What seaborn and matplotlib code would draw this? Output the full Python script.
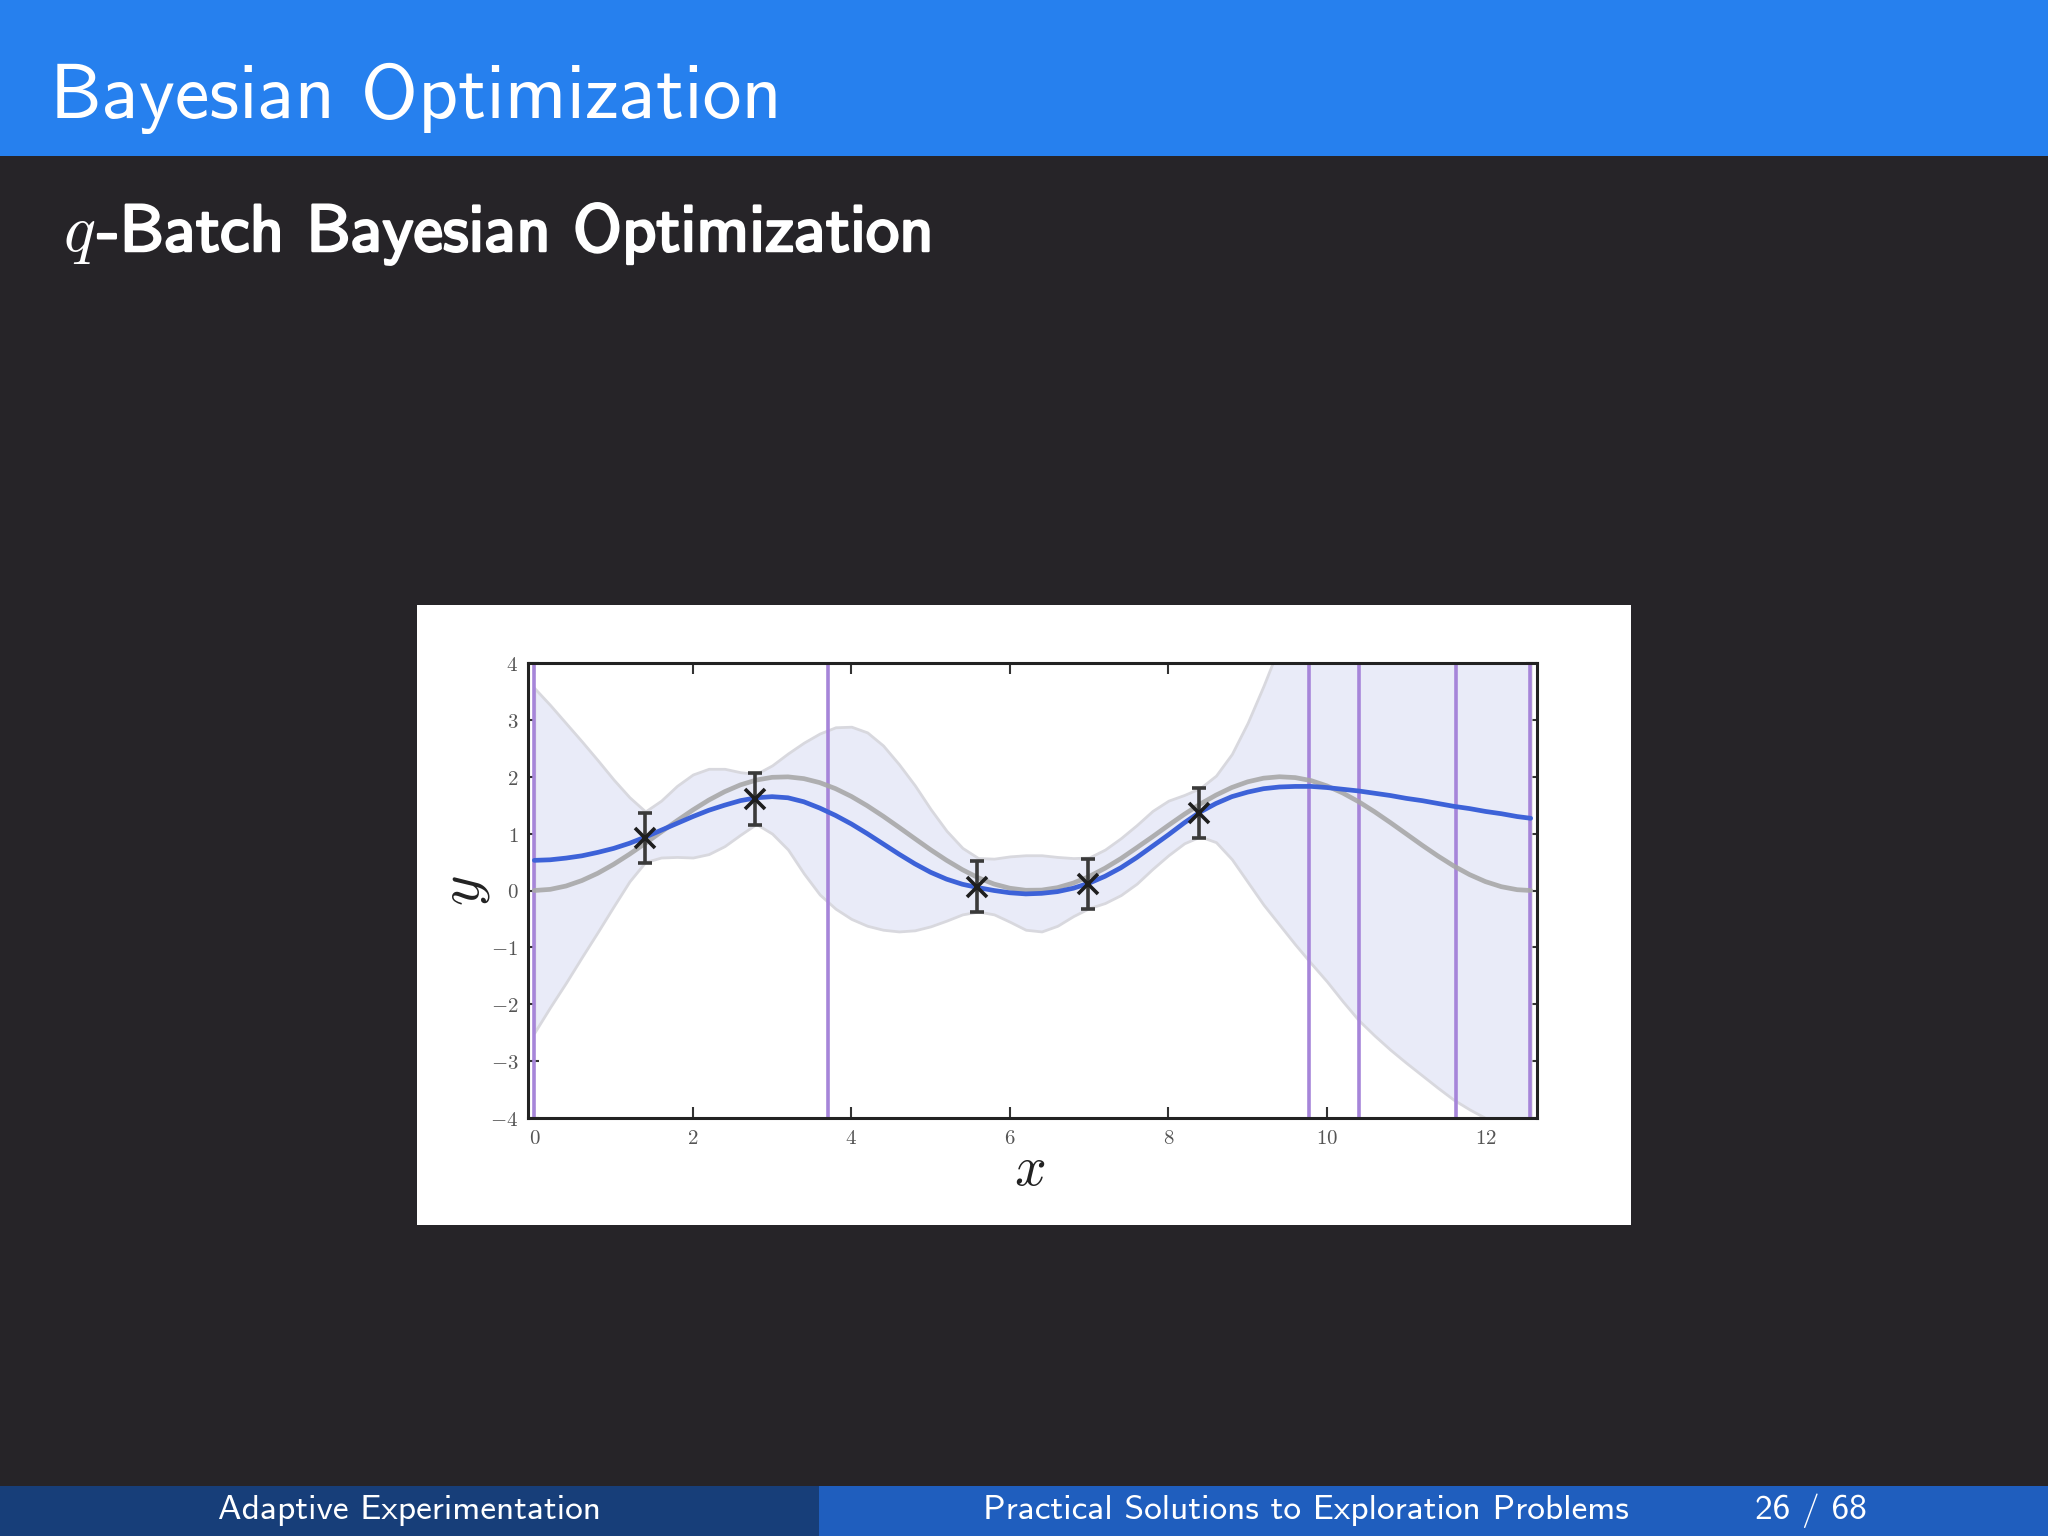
import matplotlib
matplotlib.use('Agg')
import matplotlib.pyplot as plt
import seaborn as sns
from matplotlib.patches import Rectangle
import matplotlib.patheffects as pe
from matplotlib.ticker import FuncFormatter, FixedLocator

# ---------------- data ----------------
x_grid = [0.0, 0.2, 0.4, 0.6, 0.8, 1.0, 1.2, 1.4, 1.6, 1.8,
          2.0, 2.2, 2.4, 2.6, 2.8, 3.0, 3.2, 3.4, 3.6, 3.8,
          4.0, 4.2, 4.4, 4.6, 4.8, 5.0, 5.2, 5.4, 5.6, 5.8,
          6.0, 6.2, 6.4, 6.6, 6.8, 7.0, 7.2, 7.4, 7.6, 7.8,
          8.0, 8.2, 8.4, 8.6, 8.8, 9.0, 9.2, 9.4, 9.6, 9.8,
          10.0, 10.2, 10.4, 10.6, 10.8, 11.0, 11.2, 11.4, 11.6, 11.8,
          12.0, 12.2, 12.4, 12.57]
true_f = [0.000, 0.020, 0.079, 0.175, 0.303, 0.460, 0.638, 0.830, 1.029, 1.227,
          1.416, 1.589, 1.737, 1.857, 1.942, 1.990, 1.998, 1.967, 1.897, 1.791,
          1.654, 1.490, 1.307, 1.112, 0.913, 0.716, 0.532, 0.366, 0.224, 0.113,
          0.040, 0.004, 0.007, 0.050, 0.131, 0.246, 0.392, 0.561, 0.752, 0.946,
          1.146, 1.340, 1.519, 1.677, 1.811, 1.911, 1.975, 2.000, 1.985, 1.932,
          1.839, 1.714, 1.561, 1.385, 1.194, 0.996, 0.797, 0.607, 0.431, 0.279,
          0.156, 0.067, 0.014, 0.000]
post_mean = [0.53, 0.54, 0.57, 0.61, 0.67, 0.74, 0.83, 0.94, 1.06, 1.18,
             1.30, 1.41, 1.50, 1.58, 1.63, 1.65, 1.63, 1.56, 1.45, 1.32,
             1.17, 1.00, 0.82, 0.64, 0.47, 0.32, 0.20, 0.11, 0.05, 0.00,
             -0.04, -0.06, -0.05, -0.02, 0.04, 0.13, 0.25, 0.40, 0.58, 0.78,
             0.98, 1.19, 1.38, 1.53, 1.65, 1.73, 1.79, 1.82, 1.83, 1.83,
             1.81, 1.78, 1.75, 1.71, 1.67, 1.62, 1.58, 1.53, 1.48, 1.44,
             1.39, 1.35, 1.30, 1.27]
band_upper = [3.56, 3.26, 2.94, 2.62, 2.29, 1.95, 1.64, 1.39, 1.58, 1.84,
              2.04, 2.14, 2.14, 2.08, 2.05, 2.20, 2.41, 2.60, 2.76, 2.87,
              2.88, 2.78, 2.55, 2.22, 1.85, 1.43, 1.05, 0.75, 0.57, 0.56,
              0.60, 0.62, 0.62, 0.59, 0.57, 0.58, 0.72, 0.92, 1.15, 1.40,
              1.58, 1.68, 1.80, 2.02, 2.40, 2.95, 3.60, 4.30, 4.90, 5.40,
              5.80, 6.10, 6.40, 6.60, 6.80, 7.00, 7.10, 7.20, 7.30, 7.35,
              7.40, 7.40, 7.40, 7.40]
band_lower = [-2.50, -2.05, -1.62, -1.17, -0.73, -0.28, 0.16, 0.50, 0.58, 0.59,
              0.58, 0.64, 0.78, 0.98, 1.17, 1.00, 0.72, 0.30, -0.07, -0.32,
              -0.50, -0.62, -0.69, -0.72, -0.70, -0.63, -0.53, -0.42, -0.37, -0.42,
              -0.55, -0.69, -0.72, -0.62, -0.45, -0.31, -0.22, -0.08, 0.12, 0.38,
              0.62, 0.83, 0.95, 0.85, 0.55, 0.15, -0.25, -0.60, -0.95, -1.28,
              -1.60, -1.95, -2.28, -2.55, -2.80, -3.03, -3.25, -3.47, -3.68, -3.85,
              -4.00, -4.15, -4.25, -4.35]
obs_x = [1.40, 2.79, 5.59, 6.98, 8.38]
obs_y = [0.93, 1.61, 0.07, 0.12, 1.37]
obs_err = [0.44, 0.45, 0.45, 0.44, 0.44]
batch_x = [0.0, 3.71, 9.77, 10.41, 11.63, 12.56]
x_ticks = [0, 2, 4, 6, 8, 10, 12]
y_ticks = [-4, -3, -2, -1, 0, 1, 2, 3, 4]

slide_title = 'Bayesian Optimization'
sub_q = r'$q$'
sub_rest = '-Batch Bayesian Optimization'
footer_left = 'Adaptive Experimentation'
footer_mid = 'Practical Solutions to Exploration Problems'
footer_page = '26 / 68'

# ---------------- style ----------------
sns.set_theme(style='ticks')
plt.rcParams['mathtext.fontset'] = 'cm'
plt.rcParams['font.family'] = ['DejaVu Sans']

W, H = 2048, 1536
fig = plt.figure(figsize=(W / 100, H / 100), dpi=100, facecolor='#262428')

def frect(x0, y0, x1, y1, color, z=0):
    fig.add_artist(Rectangle((x0 / W, 1 - y1 / H), (x1 - x0) / W, (y1 - y0) / H,
                             transform=fig.transFigure, facecolor=color,
                             edgecolor='none', zorder=z))

frect(0, 0, W, 155.5, '#2680ee')
frect(0, 1486, 819, H, '#173e79')
frect(819, 1486, W, H, '#1f5ebe')
frect(416.6, 604.7, 1631.3, 1225.1, 'white')

# ---------------- chart ----------------
ax = fig.add_axes([528 / W, 1 - 1118 / H, (1537 - 528) / W, (1118 - 663) / H])
ax.set_facecolor('white')
ax.fill_between(x_grid, band_lower, band_upper, facecolor='#e9ebf8',
                edgecolor='#d8d8de', linewidth=2.0, zorder=1)
for bx in batch_x:
    ax.axvline(bx, color='#a685d9', lw=2.6, zorder=2)
sns.lineplot(x=x_grid, y=true_f, color='#a8a8a8', lw=3.4, ax=ax, zorder=3,
             alpha=0.9, sort=True)
sns.lineplot(x=x_grid, y=post_mean, color='#3d62d8', lw=3.4, ax=ax, zorder=4,
             sort=True)
ax.errorbar(obs_x, obs_y, yerr=obs_err, fmt='x', color='#1e1e1e', ms=15, mew=2.6,
            ecolor='#3a3a3a', elinewidth=2.6, capsize=5, capthick=2, zorder=5)

ax.set_xlim(-0.08, 12.65)
ax.set_ylim(-4, 4)
ax.xaxis.set_major_locator(FixedLocator(x_ticks))
ax.yaxis.set_major_locator(FixedLocator(y_ticks))
fmt = FuncFormatter(lambda v, p: r'$%d$' % int(round(v)))
ax.xaxis.set_major_formatter(fmt)
ax.yaxis.set_major_formatter(fmt)
ax.tick_params(direction='in', top=True, right=True, length=8, width=1.5,
               labelsize=15, labelcolor='#555555', color='#333333', pad=7)
for s in ax.spines.values():
    s.set_linewidth(2.2)
    s.set_color('#222222')
ax.set_xlabel('')
ax.set_ylabel('')

fig.text(1030 / W, 1 - 1170 / H, r'$x$', fontsize=40, color='#222222',
         ha='center', va='center')
fig.text(464 / W, 1 - 891 / H, r'$y$', fontsize=42, color='#222222',
         ha='center', va='center', rotation=90)

# ---------------- slide texts ----------------
fig.text(50 / W, 1 - 117.5 / H, slide_title, family='cmss10', size=56,
         color='white', va='baseline')

renderer = fig.canvas.get_renderer()
tq = fig.text(63 / W, 1 - 251 / H, sub_q, size=48, color='white', va='baseline')
bb = tq.get_window_extent(renderer)
fig.text(bb.x1 / W + 0.001, 1 - 251 / H, sub_rest, family='cmss10', size=48,
         color='white', va='baseline',
         path_effects=[pe.withStroke(linewidth=1.8, foreground='white')])

fig.text(409 / W, 1 - 1511 / H, footer_left, family='cmss10', size=25.5,
         color='white', ha='center', va='center')
fig.text(983 / W, 1 - 1511 / H, footer_mid, family='cmss10', size=25.5,
         color='white', ha='left', va='center')
fig.text(1755 / W, 1 - 1511 / H, footer_page, family='cmss10', size=25.5,
         color='white', ha='left', va='center')

fig.savefig('out.png', dpi=100, facecolor=fig.get_facecolor())
